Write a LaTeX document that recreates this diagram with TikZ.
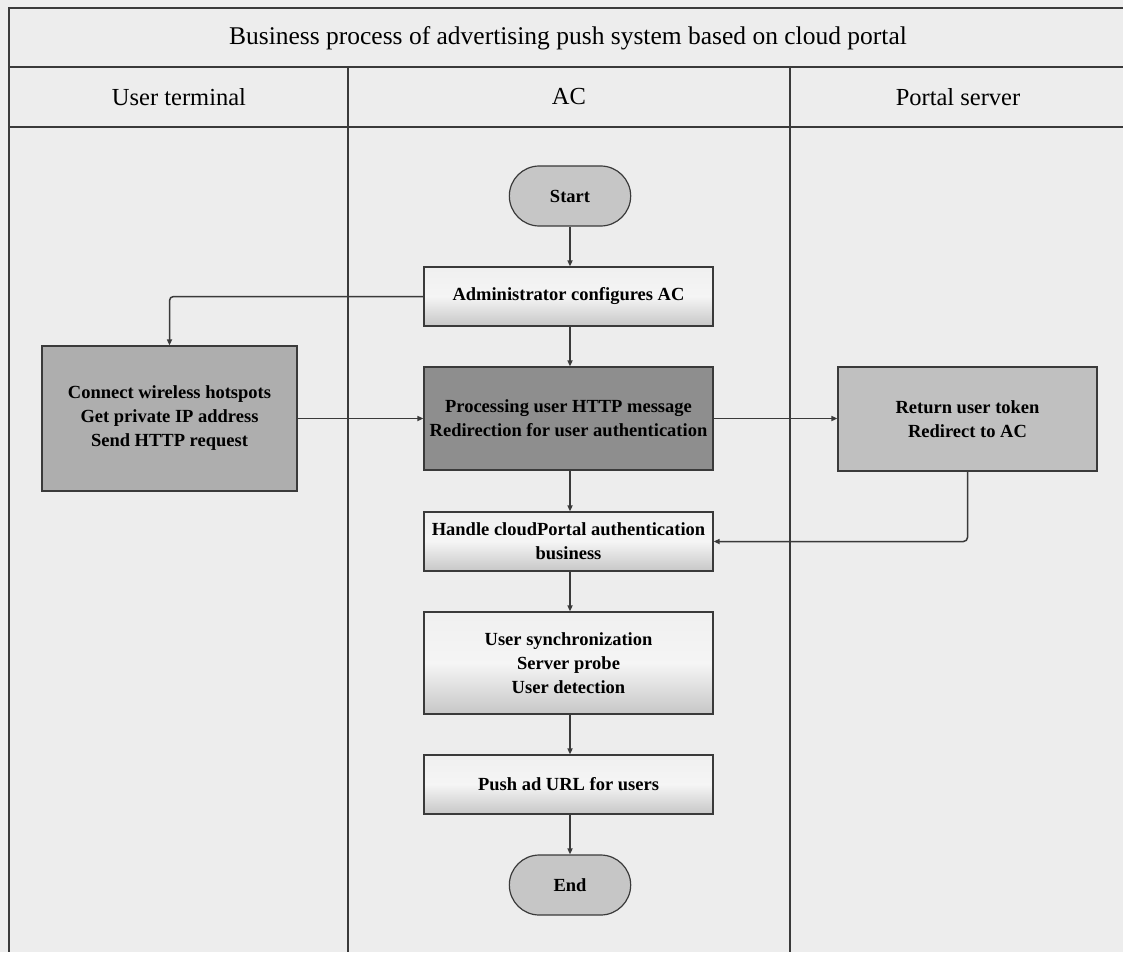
\documentclass[tikz,border=0pt]{standalone}
\usepackage{fontspec}
\setmainfont{Liberation Serif}
\usetikzlibrary{arrows.meta,shapes.misc,positioning}
\definecolor{bgc}{HTML}{EDEDED}
\definecolor{linec}{HTML}{3A3A3A}
\definecolor{darkbox}{HTML}{8E8E8E}
\definecolor{midbox}{HTML}{AEAEAE}
\definecolor{retbox}{HTML}{C0C0C0}
\definecolor{termc}{HTML}{C6C6C6}
\tikzset{
  lanes/.style={draw=linec, line width=1.4pt},
  flow/.style={draw=linec, line width=1.5pt, -{Triangle[length=6pt,width=5pt]}, rounded corners=4pt},
  boxfont/.style={font=\bfseries\fontsize{18.5}{24}\selectfont},
  lightbox/.style={draw=linec, line width=1.2pt, top color=black!6, bottom color=black!22, middle color=black!4, shading angle=0, minimum width=289pt, align=center, boxfont, inner sep=0pt},
  term/.style={draw=linec, line width=1.2pt, fill=termc, rounded rectangle, minimum width=128pt, minimum height=60pt, boxfont},
  graybox/.style={draw=linec, line width=1.2pt, align=center, boxfont, inner sep=0pt},
  headtext/.style={font=\fontsize{24.5}{28}\selectfont},
}
\begin{document}
\begin{tikzpicture}[x=1pt,y=-1pt]
\useasboundingbox (0,0) rectangle (1123,952);
\fill[bgc] (0,0) rectangle (1123,952);
% frame
\draw[lanes] (1123,8) -- (9,8) -- (9,952);
\draw[lanes] (9,67) -- (1123,67);
\draw[lanes] (9,127) -- (1123,127);
\draw[lanes] (348,67) -- (348,952);
\draw[lanes] (790,67) -- (790,952);
% headers
\node[headtext, font=\fontsize{25.5}{28}\selectfont] (title) at (568,38) {Business process of advertising push system based on cloud portal};
\node[headtext] (h1) at (179,97) {User terminal};
\node[headtext] (h2) at (569,97) {AC};
\node[headtext] (h3) at (958,97) {Portal server};
% nodes
\node[term] (start) at (570,196) {Start};
\node[lightbox, minimum height=59pt] (admin) at (568.5,296.5) {Administrator configures AC};
\node[graybox, fill=darkbox, minimum width=289pt, minimum height=103pt] (proc) at (568.5,418.5) {Processing user HTTP message\\Redirection for user authentication};
\node[lightbox, minimum height=59pt] (handle) at (568.5,541.5) {Handle cloudPortal authentication\\business};
\node[lightbox, minimum height=102pt] (sync) at (568.5,663) {User synchronization\\Server probe\\User detection};
\node[lightbox, minimum height=59pt] (push) at (568.5,784.5) {Push ad URL for users};
\node[term] (end) at (570,885) {End};
\node[graybox, fill=midbox, minimum width=255pt, minimum height=145pt] (conn) at (169.5,418.5) {Connect wireless hotspots\\Get private IP address\\Send HTTP request};
\node[graybox, fill=retbox, minimum width=259pt, minimum height=104pt] (ret) at (967.5,419) {Return user token\\Redirect to AC};
% connectors
\draw[flow] (start.south) -- (admin.north -| start.south);
\draw[flow] (admin.south -| start.south) -- (proc.north -| start.south);
\draw[flow] (proc.south -| start.south) -- (handle.north -| start.south);
\draw[flow] (handle.south -| start.south) -- (sync.north -| start.south);
\draw[flow] (sync.south -| start.south) -- (push.north -| start.south);
\draw[flow] (push.south -| start.south) -- (end.north);
\draw[flow] (admin.west) -| (conn.north);
\draw[flow] (conn.east) -- (proc.west);
\draw[flow] (proc.east) -- (ret.west |- proc.east);
\draw[flow] (ret.south) |- (handle.east);
\end{tikzpicture}
\end{document}
